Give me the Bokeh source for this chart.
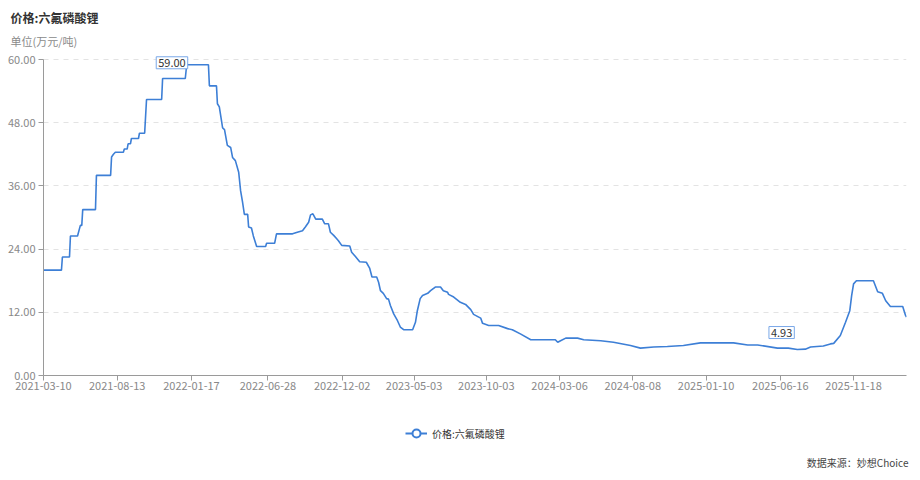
import numpy as np
import pandas as pd
from bokeh.plotting import figure
from bokeh.layouts import column
from bokeh.models import (ColumnDataSource, FixedTicker, NumeralTickFormatter,
                          DatetimeTickFormatter, Label, Legend, LegendItem, Range1d)
from bokeh.embed import file_html
from bokeh.resources import INLINE

# ---- data ----
dates = [
    "2021-03-10", "2021-04-17", "2021-04-19", "2021-05-04", "2021-05-06", "2021-05-21",
    "2021-05-27", "2021-05-30", "2021-06-01", "2021-06-28", "2021-06-30", "2021-07-30",
    "2021-08-01", "2021-08-05", "2021-08-09", "2021-08-26", "2021-08-28", "2021-09-03",
    "2021-09-05", "2021-09-10", "2021-09-12", "2021-09-27", "2021-09-29", "2021-10-10",
    "2021-10-14", "2021-11-15", "2021-11-17", "2022-01-04", "2022-01-07", "2022-02-22",
    "2022-02-24", "2022-03-11", "2022-03-13", "2022-03-17", "2022-03-24", "2022-03-28",
    "2022-04-03", "2022-04-10", "2022-04-14", "2022-04-20", "2022-04-27", "2022-05-01",
    "2022-05-05", "2022-05-09", "2022-05-16", "2022-05-18", "2022-05-24", "2022-05-28",
    "2022-06-04", "2022-06-23", "2022-06-25", "2022-07-12", "2022-07-16", "2022-08-19",
    "2022-08-29", "2022-09-09", "2022-09-15", "2022-09-22", "2022-09-26", "2022-10-01",
    "2022-10-07", "2022-10-21", "2022-10-26", "2022-11-03", "2022-11-07", "2022-11-14",
    "2022-11-20", "2022-11-24", "2022-12-01", "2022-12-18", "2022-12-22", "2022-12-30",
    "2023-01-08", "2023-01-22", "2023-01-29", "2023-02-03", "2023-02-13", "2023-02-17",
    "2023-02-21", "2023-02-27", "2023-03-06", "2023-03-10", "2023-03-14", "2023-03-21",
    "2023-03-29", "2023-04-04", "2023-04-11", "2023-04-30", "2023-05-06", "2023-05-10",
    "2023-05-16", "2023-05-21", "2023-06-01", "2023-06-07", "2023-06-17", "2023-06-28",
    "2023-07-04", "2023-07-13", "2023-07-15", "2023-07-26", "2023-08-09", "2023-08-20",
    "2023-08-31", "2023-09-06", "2023-09-21", "2023-09-25", "2023-10-08", "2023-10-29",
    "2023-11-17", "2023-11-27", "2023-12-14", "2024-01-05", "2024-02-26", "2024-03-02",
    "2024-03-08", "2024-03-19", "2024-04-13", "2024-04-26", "2024-06-01", "2024-06-28",
    "2024-08-03", "2024-08-24", "2024-09-21", "2024-10-20", "2024-11-23", "2024-12-29",
    "2025-03-09", "2025-04-08", "2025-04-29", "2025-06-10", "2025-07-03", "2025-07-22",
    "2025-08-08", "2025-08-19", "2025-09-15", "2025-09-30", "2025-10-07", "2025-10-21",
    "2025-11-01", "2025-11-10", "2025-11-14", "2025-11-18", "2025-11-24", "2025-12-30",
    "2026-01-08", "2026-01-18", "2026-01-25", "2026-02-04", "2026-03-02", "2026-03-08",
    "2026-03-10",
]
prices = [
    20.0, 20.0, 22.5, 22.5, 26.5, 26.5,
    28.5, 28.5, 31.5, 31.5, 38.0, 38.0,
    41.5, 42.0, 42.4, 42.4, 43.0, 43.0,
    44.0, 44.0, 45.0, 45.0, 46.0, 46.0,
    52.4, 52.4, 56.4, 56.4, 59.0, 59.0,
    55.0, 55.0, 51.6, 51.0, 47.0, 46.7,
    43.7, 43.3, 41.4, 40.8, 38.6, 35.1,
    33.0, 30.6, 30.6, 28.2, 28.0, 26.5,
    24.5, 24.5, 25.1, 25.1, 26.9, 26.9,
    27.2, 27.5, 28.2, 29.1, 30.5, 30.7,
    29.7, 29.7, 28.8, 28.8, 27.2, 26.6,
    26.0, 25.6, 24.7, 24.6, 23.4, 22.6,
    21.6, 21.5, 20.4, 18.7, 18.7, 17.7,
    16.1, 15.6, 14.6, 14.5, 13.3, 11.7,
    10.4, 9.2, 8.7, 8.7, 10.1, 12.3,
    14.6, 15.2, 15.6, 16.1, 16.8, 16.8,
    16.1, 15.8, 15.4, 14.9, 13.9, 13.5,
    12.5, 11.6, 10.9, 9.9, 9.5, 9.5,
    8.9, 8.7, 7.9, 6.8, 6.8, 6.3,
    6.6, 7.1, 7.1, 6.8, 6.6, 6.3,
    5.7, 5.2, 5.4, 5.5, 5.7, 6.2,
    6.2, 5.8, 5.8, 5.2, 5.2, 4.93,
    5.0, 5.4, 5.6, 6.0, 6.1, 7.6,
    10.1, 12.3, 15.2, 17.4, 18.0, 18.0,
    15.9, 15.6, 14.2, 13.1, 13.1, 11.4,
    11.1,
]
x_tick_dates = ["2021-03-10", "2021-08-13", "2022-01-17", "2022-06-28", "2022-12-02",
                "2023-05-03", "2023-10-03", "2024-03-06", "2024-08-08", "2025-01-10",
                "2025-06-16", "2025-11-18"]
x_start, x_end = "2021-03-10", "2026-03-10"
y_ticks = [0, 12, 24, 36, 48, 60]
series_name = "价格:六氟磷酸锂"
title_text = "价格:六氟磷酸锂"
unit_text = "单位(万元/吨)"
source_text = "数据来源：妙想Choice"

FONT = "Noto Sans CJK SC"
LINE = "#3d7fd6"
W = 912


def ms(d):
    return pd.Timestamp(d).value / 1e6


def blank(h):
    f = figure(width=W, height=h, output_backend="svg", toolbar_location=None,
               x_axis_location=None, y_axis_location=None,
               x_range=Range1d(0, 1), y_range=Range1d(0, 1),
               min_border_left=0, min_border_right=0, min_border_top=0, min_border_bottom=0)
    f.grid.visible = False
    f.outline_line_color = None
    f.background_fill_color = "white"
    f.border_fill_color = "white"
    f.frame_align = False
    return f


# ---- top strip: title and unit ----
TOP_H = 49
top = blank(TOP_H)
top.add_layout(Label(x=10, y=TOP_H - 17, x_units="screen", y_units="screen", text=title_text,
                     text_font=FONT, text_font_size="12px", text_font_style="bold",
                     text_color="#333333", text_baseline="middle"))
top.add_layout(Label(x=10, y=TOP_H - 40, x_units="screen", y_units="screen", text=unit_text,
                     text_font=FONT, text_font_size="11px", text_color="#8a8a8a",
                     text_baseline="middle"))

# ---- main chart ----
dt = pd.to_datetime(dates)
src = ColumnDataSource(dict(date=dt, price=prices))

# frame is 6px taller than the 0..60 span so the max label box is not clipped
FRAME_H, PAD = 316, 6
y_top = y_ticks[-1] * (FRAME_H + PAD) / FRAME_H

p = figure(width=W, height=356, x_axis_type="datetime",
           output_backend="svg", toolbar_location=None,
           x_range=Range1d(ms(x_start), ms(x_end)), y_range=Range1d(0, y_top),
           min_border_left=43, min_border_right=6, min_border_top=10 - PAD,
           min_border_bottom=30)
p.frame_align = False
p.outline_line_color = None
p.background_fill_color = "white"
p.border_fill_color = "white"

p.line(x="date", y="price", source=src, line_color=LINE, line_width=1.6)

for ax in (p.xaxis[0], p.yaxis[0]):
    ax.axis_line_color = "#9a9a9a"
    ax.major_tick_line_color = "#9a9a9a"
    ax.major_tick_out = 5
    ax.major_tick_in = 0
    ax.minor_tick_line_color = None
    ax.major_label_text_font = FONT
    ax.major_label_text_font_size = "11px"
    ax.major_label_text_color = "#888888"

p.xaxis.ticker = FixedTicker(ticks=[ms(d) for d in x_tick_dates])
fmt = "%Y-%m-%d"
p.xaxis.formatter = DatetimeTickFormatter(microseconds=fmt, milliseconds=fmt, seconds=fmt,
                                          minsec=fmt, minutes=fmt, hourmin=fmt, hours=fmt,
                                          days=fmt, months=fmt, years=fmt)
p.xaxis.major_label_standoff = 1
p.yaxis.ticker = FixedTicker(ticks=y_ticks)
p.yaxis.formatter = NumeralTickFormatter(format="0.00")
p.yaxis.major_label_standoff = 3
p.yaxis.bounds = (y_ticks[0], y_ticks[-1])

p.xgrid.grid_line_color = None
p.ygrid.grid_line_color = "#e3e3e3"
p.ygrid.grid_line_dash = "5 5"
p.ygrid.ticker = FixedTicker(ticks=y_ticks[1:])

imax = int(np.argmax(prices))
imin = int(np.argmin(prices))
for i, xo, yo in ((imax, 1, 2), (imin, -3, 17)):
    p.add_layout(Label(x=ms(dates[i]), y=prices[i], text=f"{prices[i]:.2f}",
                       x_offset=xo, y_offset=yo, text_align="right", text_baseline="middle",
                       text_font=FONT, text_font_size="11px", text_color="#333333",
                       border_line_color="#7aa8e8", border_line_width=1,
                       background_fill_color="white", padding=2))

# ---- bottom strip: legend and source ----
BOT_H = 67
bot = blank(BOT_H)
# one point outside the visible range so the legend has something to draw from
leg_src = ColumnDataSource(dict(x=[-5], y=[-5]))
leg_line = bot.line(x="x", y="y", source=leg_src, line_color=LINE, line_width=2)
leg_circ = bot.scatter(x="x", y="y", source=leg_src, marker="circle", size=8,
                       line_color=LINE, line_width=2, fill_color="white")
legend = Legend(items=[LegendItem(label=series_name, renderers=[leg_line, leg_circ])],
                location=(405, BOT_H - 28 - 10), orientation="horizontal",
                glyph_width=22, glyph_height=20, label_height=20, label_standoff=5,
                padding=0, margin=0, spacing=0, border_line_color=None,
                background_fill_alpha=0,
                label_text_font=FONT, label_text_font_size="10px", label_text_color="#333333")
bot.add_layout(legend)
bot.add_layout(Label(x=908, y=BOT_H - 57, x_units="screen", y_units="screen", text=source_text,
                     text_font=FONT, text_font_size="10px", text_color="#444444",
                     text_align="right", text_baseline="middle"))

layout = column(top, p, bot, spacing=0)
open("out.html", "w").write(file_html(layout, INLINE))
